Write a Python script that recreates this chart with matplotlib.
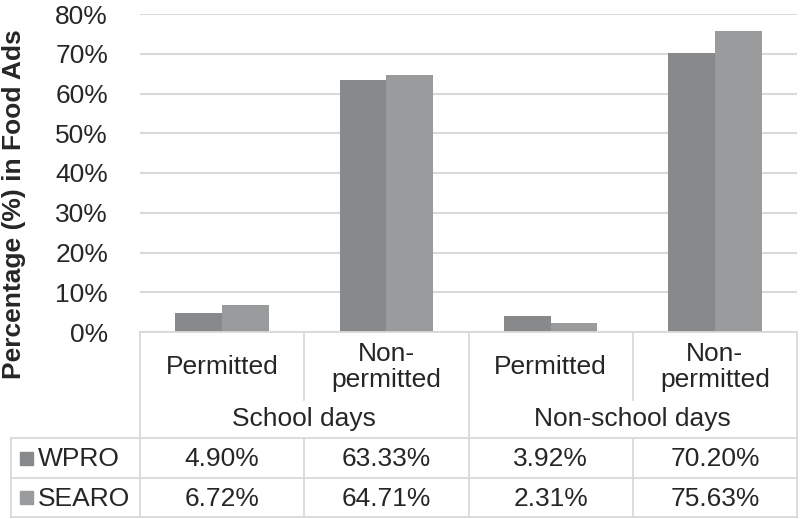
import matplotlib
matplotlib.use("Agg")
import matplotlib.pyplot as plt
from matplotlib.lines import Line2D

# ---- data ----
categories = ["Permitted", "Non-\npermitted", "Permitted", "Non-\npermitted"]
groups = ["School days", "Non-school days"]
series_names = ["WPRO", "SEARO"]
wpro = [4.90, 63.33, 3.92, 70.20]
searo = [6.72, 64.71, 2.31, 75.63]
yticks = [0, 10, 20, 30, 40, 50, 60, 70, 80]

colors = ["#88898b", "#9a9b9d"]
grid_c = "#d9d9d9"
text_c = "#262626"

W, H = 800, 519
plt.rcParams["font.family"] = ["Liberation Sans", "DejaVu Sans"]
fig = plt.figure(figsize=(W / 100, H / 100), dpi=100)

FS = 19
L, R, T, B = 140, 797, 14, 332
ax = fig.add_axes([L / W, 1 - B / H, (R - L) / W, (B - T) / H])
n = len(categories)
x = list(range(n))
bw = 0.285
ax.bar([i - bw / 2 for i in x], wpro, width=bw, color=colors[0], zorder=3)
ax.bar([i + bw / 2 for i in x], searo, width=bw, color=colors[1], zorder=3)
ax.set_xlim(-0.5, n - 0.5)
ax.set_ylim(0, 80)
ax.set_yticks(yticks)
ax.set_yticklabels([f"{v}%" for v in yticks], fontsize=FS, color=text_c)
ax.set_xticks([])
ax.yaxis.grid(True, color=grid_c, linewidth=1.5, zorder=0)
for s in ax.spines.values():
    s.set_visible(False)
ax.tick_params(axis="y", length=0, pad=23)

# overlay in pixel coordinates for the data table
ov = fig.add_axes([0, 0, 1, 1])
ov.set_xlim(0, W)
ov.set_ylim(H, 0)
ov.axis("off")
ov.patch.set_alpha(0)

def px(i):
    return L + (i + 0.5) * (R - L) / n

bounds = [L + k * (R - L) / n for k in range(n + 1)]
TL = 11
rows_y = [438, 478, 517]
lw = 1.3
def line(xs, ys):
    ov.add_line(Line2D(xs, ys, color=grid_c, linewidth=lw))

line([L, R], [B, B])
for y in rows_y:
    line([TL, R], [y, y])
line([TL, TL], [rows_y[0], rows_y[-1]])
for k, bx in enumerate(bounds):
    if k % 2 == 0:
        line([bx, bx], [B, rows_y[-1]])
    else:
        line([bx, bx], [B, 400])
        line([bx, bx], [rows_y[0], rows_y[-1]])

for i, c in enumerate(categories):
    ov.text(px(i), 367, c, ha="center", va="center", fontsize=FS,
            color=text_c, linespacing=1.15)
for g, name in enumerate(groups):
    gx = (bounds[2 * g] + bounds[2 * g + 2]) / 2
    ov.text(gx, 419, name, ha="center", va="center", fontsize=FS, color=text_c)

for r, (name, vals) in enumerate(zip(series_names, [wpro, searo])):
    cy = (rows_y[r] + rows_y[r + 1]) / 2
    ov.add_patch(plt.Rectangle((20, cy - 6.5), 13, 13, color=colors[r]))
    ov.text(38, cy + 1, name, ha="left", va="center", fontsize=FS, color=text_c)
    for i, v in enumerate(vals):
        ov.text(px(i), cy + 1, f"{v:.2f}%", ha="center", va="center",
                fontsize=FS, color=text_c)

ov.text(14, 204, "Percentage (%) in Food Ads", rotation=90, ha="center",
        va="center", fontsize=19, fontweight="bold", color=text_c)

fig.savefig("out.png", dpi=100)
